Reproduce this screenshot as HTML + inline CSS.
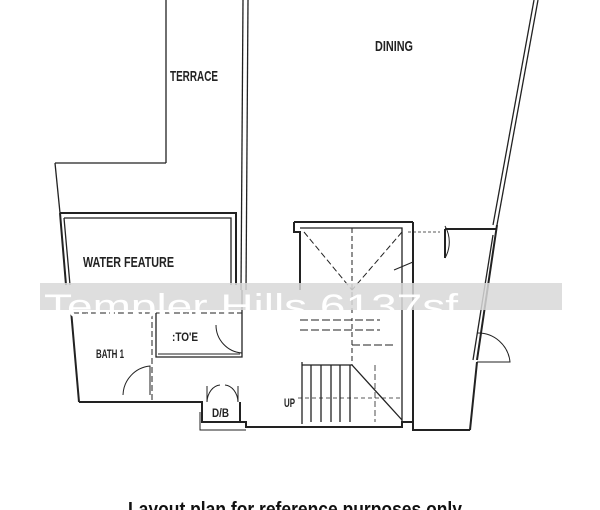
<!DOCTYPE html>
<html><head><style>
html,body{margin:0;padding:0;background:#fff;}
svg{display:block;}
text{font-family:"Liberation Sans",sans-serif;}
</style></head><body>
<svg width="600" height="510" viewBox="0 0 600 510" xmlns="http://www.w3.org/2000/svg">
<g stroke="#222" fill="none" stroke-width="1.3">
<line x1="166" y1="0" x2="166" y2="163"/>
<line x1="55" y1="163" x2="166" y2="163"/>
<line x1="55" y1="163" x2="60" y2="213"/>
<line x1="243" y1="0" x2="241" y2="290"/>
<line x1="248" y1="0" x2="246" y2="290"/>
<path d="M60 213 L236 213 L236 285" stroke-width="2"/>
<path d="M64 218 L231 218 L231 285"/>
<line x1="60" y1="213" x2="66" y2="285" stroke-width="2"/>
<line x1="64" y1="218" x2="70" y2="285"/>
<line x1="534" y1="0" x2="493" y2="225"/>
<line x1="538" y1="0" x2="497" y2="225"/>
<line x1="497" y1="225" x2="477" y2="360" stroke-width="2"/>
<line x1="493" y1="235" x2="473" y2="360"/>
<path d="M445 229 L496 229" stroke-width="2"/>
<path d="M445 229 L445 258 M413 222 L413 430" stroke-width="2"/>
<path d="M445 258 A 32 32 0 0 0 445 226" stroke-width="1"/>
<path d="M408 232 L440 232" stroke-dasharray="3 2" stroke-width="0.8"/>
<path d="M477 333 A 32 32 0 0 1 510 362 L477 362" stroke-width="1"/>
<path d="M477 362 L470 430" stroke-width="2"/>
<path d="M294 222 L413 222" stroke-width="2"/>
<path d="M294 222 L294 232 L300 232 L300 290" stroke-width="2"/>
<path d="M300 228 L402 228 L402 422" stroke-width="1.3"/>
<path d="M304 232 L352 290 M402 232 L352 290" stroke-dasharray="6 3" stroke-width="1"/>
<line x1="352" y1="228" x2="352" y2="365" stroke-dasharray="5 3" stroke-width="1"/>
<path d="M394 270 L413 262" stroke-width="1"/>
<path d="M300 320 L380 320 M300 330 L380 330 M352 345 L395 345" stroke-dasharray="8 3" stroke-width="1"/>
<path d="M302 365 L352 365 L402 420" stroke-width="1.3"/>
<line x1="302" y1="362" x2="302" y2="424"/>
<line x1="311" y1="365" x2="311" y2="422"/>
<line x1="321" y1="365" x2="321" y2="422"/>
<line x1="331" y1="365" x2="331" y2="422"/>
<line x1="340" y1="365" x2="340" y2="422"/>
<line x1="350" y1="365" x2="350" y2="422"/>
<line x1="375" y1="365" x2="375" y2="422" stroke-dasharray="6 3" stroke-width="0.8"/>
<line x1="298" y1="398" x2="402" y2="398" stroke-dasharray="4 3" stroke-width="0.7"/>
<path d="M79 402 L202 402 L202 422 L240 422 L240 402" stroke-width="2"/>
<path d="M240 422 L246 422 L246 427 L402 427 L402 422 L413 422 L413 430 L470 430" stroke-width="2"/>
<path d="M200 412 L200 430 L246 430" stroke-width="1"/>
<path d="M207 402 A 14 18 0 0 1 220 385 M238 402 A 14 18 0 0 0 225 385" stroke-width="1"/>
<line x1="207" y1="386" x2="207" y2="402" stroke-width="1"/>
<line x1="238" y1="386" x2="238" y2="402" stroke-width="1"/>
<path d="M71 310 L79 402" stroke-width="2"/>
<path d="M73 313 L152 313" stroke-dasharray="6 3" stroke-width="1"/>
<line x1="152" y1="313" x2="152" y2="400" stroke-dasharray="6 3" stroke-width="1"/>
<path d="M123 395 A 30 30 0 0 1 150 366 L150 395" stroke-width="1"/>
<path d="M156 313 L242 313" stroke-dasharray="6 3" stroke-width="1"/>
<path d="M156 313 L156 357 L242 357 L242 290" stroke-width="1.3"/>
<path d="M158 354 L240 354" stroke-width="1"/>
<path d="M242 353 A 28 28 0 0 1 216 325" stroke-width="1"/>
</g>
<g fill="#222" font-size="15" font-weight="bold">
<text x="170" y="81" textLength="48" lengthAdjust="spacingAndGlyphs">TERRACE</text>
<text x="375" y="51" textLength="38" lengthAdjust="spacingAndGlyphs">DINING</text>
<text x="83" y="267" textLength="91" lengthAdjust="spacingAndGlyphs">WATER FEATURE</text>
<text x="96" y="358" font-size="12" textLength="28" lengthAdjust="spacingAndGlyphs">BATH 1</text>
<text x="172" y="341" font-size="12" textLength="26" lengthAdjust="spacingAndGlyphs">:TO'E</text>
<text x="212" y="417" font-size="12" textLength="17" lengthAdjust="spacingAndGlyphs">D/B</text>
<text x="284" y="407" font-size="12" textLength="11" lengthAdjust="spacingAndGlyphs">UP</text>
</g>
<rect x="40" y="283" width="522" height="27" fill="#d8d8d8" opacity="0.85"/>
<text x="44" y="318" font-size="34" fill="#fff" textLength="414" lengthAdjust="spacingAndGlyphs">Templer Hills 6137sf</text>
<text x="128" y="516" font-family="Liberation Serif" font-weight="bold" font-size="20" fill="#111" textLength="334" lengthAdjust="spacingAndGlyphs">Layout plan for reference purposes only</text>
</svg>
</body></html>
